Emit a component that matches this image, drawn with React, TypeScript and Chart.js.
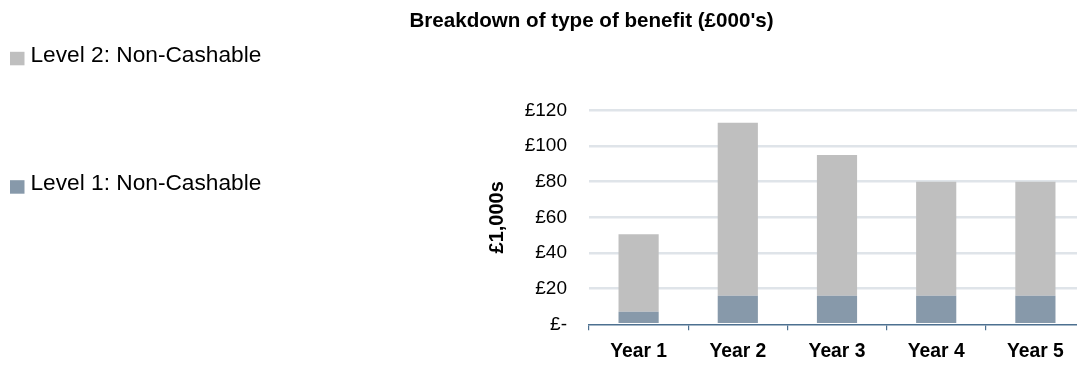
import React, { useEffect, useRef } from "react";
import { Chart, registerables } from "chart.js";

Chart.register(...registerables);

// Benefit breakdown, £000's per year
const categories = ["Year 1", "Year 2", "Year 3", "Year 4", "Year 5"];
const level1NonCashable = [7, 16, 16, 16, 16];
const level2NonCashable = [43.5, 97, 79, 64, 64];
const seriesLabels = ["Level 1: Non-Cashable", "Level 2: Non-Cashable"];
const seriesColors = ["#8799aa", "#bfbfbf"];
const yTickValues = [0, 20, 40, 60, 80, 100, 120];

const FONT = "'Liberation Sans', Arial, Helvetica, sans-serif";
const AXIS_BLUE = "#4d7090";

// Side legend: each series on its own row, top series first
const sideLegend = {
  id: "sideLegend",
  afterDraw(chart: any) {
    const ctx = chart.ctx;
    const rows = [55.8, 184.2];
    const items = chart.data.datasets.map((d: any) => ({ label: d.label, color: d.backgroundColor })).reverse();
    ctx.save();
    ctx.font = `22.7px ${FONT}`;
    ctx.textBaseline = "middle";
    ctx.textAlign = "left";
    items.forEach((it: any, i: number) => {
      const cy = rows[i];
      ctx.fillStyle = it.color;
      ctx.fillRect(10, cy - 4, 14.5, 13.5);
      ctx.fillStyle = "#000";
      ctx.fillText(it.label, 30.5, cy);
    });
    ctx.restore();
  },
};

export default function App() {
  const canvasRef = useRef<HTMLCanvasElement | null>(null);

  useEffect(() => {
    if (!canvasRef.current) return;
    const chart = new Chart(canvasRef.current, {
      type: "bar",
      data: {
        labels: categories,
        datasets: [
          {
            label: seriesLabels[0],
            data: level1NonCashable,
            backgroundColor: seriesColors[0],
            barPercentage: 0.405,
            categoryPercentage: 1,
          },
          {
            label: seriesLabels[1],
            data: level2NonCashable,
            backgroundColor: seriesColors[1],
            barPercentage: 0.405,
            categoryPercentage: 1,
          },
        ],
      },
      plugins: [sideLegend],
      options: {
        responsive: false,
        animation: false,
        devicePixelRatio: 1,
        layout: { padding: { left: 98, right: 0, top: 0, bottom: 0 } },
        plugins: {
          legend: { display: false },
          tooltip: { enabled: false },
          title: {
            display: true,
            text: "Breakdown of type of benefit (£000's)",
            color: "#000",
            font: { family: FONT, size: 20.6, weight: "bold" },
            padding: { top: 8.6, bottom: 77 },
          },
        },
        scales: {
          x: {
            stacked: true,
            offset: true,
            grid: {
              display: true,
              offset: true,
              drawOnChartArea: false,
              drawTicks: true,
              tickLength: 6,
              color: AXIS_BLUE,
              lineWidth: 1.2,
            },
            border: { display: true, color: AXIS_BLUE, width: 1.5 },
            ticks: {
              color: "#000",
              padding: 10,
              font: { family: FONT, size: 19.3, weight: "bold" },
            },
            afterFit(scale: any) {
              scale.height = 40.7;
            },
          },
          y: {
            stacked: true,
            min: 0,
            max: 120,
            afterBuildTicks(scale: any) {
              scale.ticks = yTickValues.map((v) => ({ value: v }));
            },
            grid: {
              drawTicks: false,
              color: (c: any) => (c.tick && c.tick.value === 0 ? "rgba(0,0,0,0)" : "#dfe4e9"),
              lineWidth: 2.5,
            },
            border: { display: false },
            ticks: {
              color: "#000",
              padding: 22,
              font: { family: FONT, size: 19 },
              callback: (v: any) => (Number(v) === 0 ? "£-" : `£${v}`),
            },
            title: {
              display: true,
              text: "£1,000s",
              color: "#000",
              font: { family: FONT, size: 20, weight: "bold" },
              padding: { top: 387, bottom: 0 },
            },
            afterFit(scale: any) {
              scale.width = 491;
            },
          },
        },
      },
    });
    return () => chart.destroy();
  }, []);

  return (
    <div style={{ position: "absolute", left: 0, top: 0, width: 1077, height: 365, overflow: "hidden", background: "#fff" }}>
      <canvas ref={canvasRef} width={1085} height={365} style={{ display: "block" }} />
    </div>
  );
}
